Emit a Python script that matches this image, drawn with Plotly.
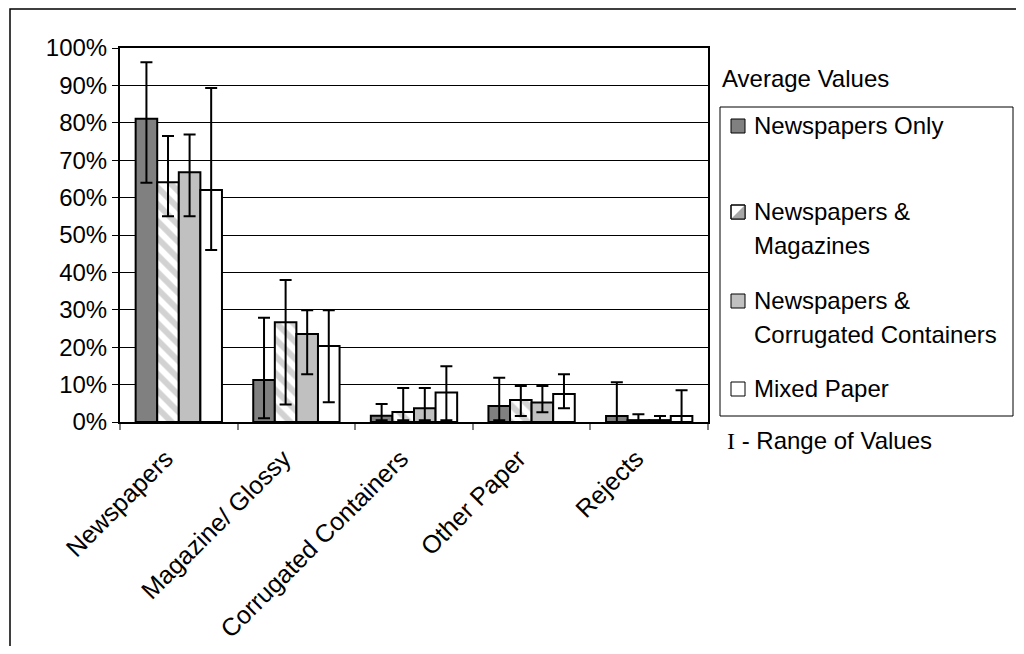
import plotly.graph_objects as go

categories = ["Newspapers", "Magazine/ Glossy", "Corrugated Containers", "Other Paper", "Rejects"]
series_names = ["Newspapers Only", "Newspapers & Magazines", "Newspapers & Corrugated Containers", "Mixed Paper"]

avg_news_only = [0.811, 0.112, 0.017, 0.043, 0.016]
avg_news_mag = [0.641, 0.267, 0.027, 0.059, 0.005]
avg_news_cc = [0.668, 0.235, 0.037, 0.052, 0.005]
avg_mixed = [0.620, 0.203, 0.079, 0.075, 0.016]

max_news_only = [0.962, 0.279, 0.048, 0.118, 0.106]
max_news_mag = [0.765, 0.380, 0.091, 0.096, 0.021]
max_news_cc = [0.769, 0.299, 0.091, 0.096, 0.016]
max_mixed = [0.893, 0.299, 0.149, 0.128, 0.085]

min_news_only = [0.640, 0.010, 0.005, 0.005, 0.000]
min_news_mag = [0.550, 0.047, 0.005, 0.016, 0.000]
min_news_cc = [0.550, 0.128, 0.005, 0.026, 0.000]
min_mixed = [0.460, 0.053, 0.005, 0.037, 0.000]

y_ticks = [i / 10 for i in range(11)]
y_tick_labels = [f"{i*10}%" for i in range(11)]

FONT = "Liberation Sans, Arial, sans-serif"
FS = 24

OFF = 8  # page body margin
# plot area in page pixels
L, R, T, B = 120, 708, 48, 422
W, H = 1008, 638

def px(x):
    return (x - L) / (R - L)

def py(y):
    return (B - y) / (B - T)

styles = [
    dict(color="#808080"),
    dict(color="white", pattern=dict(shape="\\", fgcolor="#a6a6a6", bgcolor="white", size=12, solidity=0.5)),
    dict(color="#c0c0c0"),
    dict(color="white"),
]
avgs = [avg_news_only, avg_news_mag, avg_news_cc, avg_mixed]
maxs = [max_news_only, max_news_mag, max_news_cc, max_mixed]
mins = [min_news_only, min_news_mag, min_news_cc, min_mixed]

fig = go.Figure()
for name, st, a, mx, mn in zip(series_names, styles, avgs, maxs, mins):
    marker = dict(st)
    marker["line"] = dict(color="black", width=2)
    fig.add_trace(go.Bar(
        x=categories, y=a, name=name, marker=marker, showlegend=False,
        error_y=dict(type="data", symmetric=False,
                     array=[h - v for h, v in zip(mx, a)],
                     arrayminus=[v - l for v, l in zip(a, mn)],
                     color="black", thickness=2, width=6),
        hoverinfo="skip",
    ))

fig.update_layout(
    width=W, height=H,
    margin=dict(l=L - OFF, r=W - (R - OFF), t=T - OFF, b=H - (B - OFF), autoexpand=False),
    paper_bgcolor="white", plot_bgcolor="white",
    barmode="group", bargap=0.266, bargroupgap=0,
    font=dict(family=FONT, size=FS, color="black"),
)
fig.update_xaxes(
    type="category", tickangle=-45, tickson="boundaries", ticks="outside",
    ticklen=6, tickcolor="#808080", tickwidth=2, ticklabelstandoff=10,
    ticklabelshift=-13,
    showline=True, linecolor="black", linewidth=2, mirror=True,
    showgrid=False, tickfont=dict(family=FONT, size=25, color="black"),
)
fig.update_yaxes(
    range=[0, 1], tickvals=y_ticks, ticktext=y_tick_labels,
    ticks="outside", ticklen=6, tickcolor="black", tickwidth=1,
    showline=True, linecolor="black", linewidth=2, mirror=True,
    showgrid=True, gridcolor="black", gridwidth=1, zeroline=False,
    tickfont=dict(family=FONT, size=FS, color="black"),
)

shapes = []
# outer chart border
shapes.append(dict(type="rect", xref="paper", yref="paper",
                   x0=px(10), x1=px(1040), y0=py(680), y1=py(OFF + 1),
                   line=dict(color="black", width=1.5), fillcolor="rgba(0,0,0,0)", layer="below"))
# legend box
shapes.append(dict(type="rect", xref="paper", yref="paper",
                   x0=px(720), x1=px(1013), y0=py(416), y1=py(107),
                   line=dict(color="black", width=1), fillcolor="white"))

legend_rows = [
    (["Newspapers Only"], 125, "#808080"),
    (["Newspapers &", "Magazines"], 211, "hatch"),
    (["Newspapers &", "Corrugated Containers"], 300, "#c0c0c0"),
    (["Mixed Paper"], 388, "white"),
]
annotations = []
sq = 14
LINE = 34
for lines, yc, col in legend_rows:
    x0, x1 = 731, 731 + sq
    y0, y1 = yc - sq / 2 + 1, yc + sq / 2 + 1
    fill = "white" if col == "hatch" else col
    shapes.append(dict(type="rect", xref="paper", yref="paper",
                       x0=px(x0), x1=px(x1), y0=py(y1), y1=py(y0),
                       line=dict(color="black", width=1), fillcolor=fill))
    if col == "hatch":
        shapes.append(dict(type="path", xref="paper", yref="paper",
                           path=f"M {px(x1)} {py(y0)} L {px(x1)} {py(y1)} L {px(x0)} {py(y1)} Z",
                           line=dict(width=0), fillcolor="#a6a6a6"))
        shapes.append(dict(type="rect", xref="paper", yref="paper",
                           x0=px(x0), x1=px(x1), y0=py(y1), y1=py(y0),
                           line=dict(color="black", width=1), fillcolor="rgba(0,0,0,0)"))
    for i, t in enumerate(lines):
        annotations.append(dict(text=t, xref="paper", yref="paper",
                                x=px(752), y=py(yc + i * LINE), xanchor="left", yanchor="middle",
                                align="left", showarrow=False,
                                font=dict(family=FONT, size=FS, color="black")))

annotations.append(dict(text="Average Values", xref="paper", yref="paper",
                        x=px(720), y=py(78), xanchor="left", yanchor="middle",
                        showarrow=False, font=dict(family=FONT, size=FS, color="black")))
annotations.append(dict(text="<span style='font-family:Liberation Serif, Times New Roman, serif'>I</span> - Range of Values",
                        xref="paper", yref="paper",
                        x=px(725), y=py(440), xanchor="left", yanchor="middle",
                        showarrow=False, font=dict(family=FONT, size=FS, color="black")))

fig.update_layout(shapes=shapes, annotations=annotations)

fig.write_html("out.html")
